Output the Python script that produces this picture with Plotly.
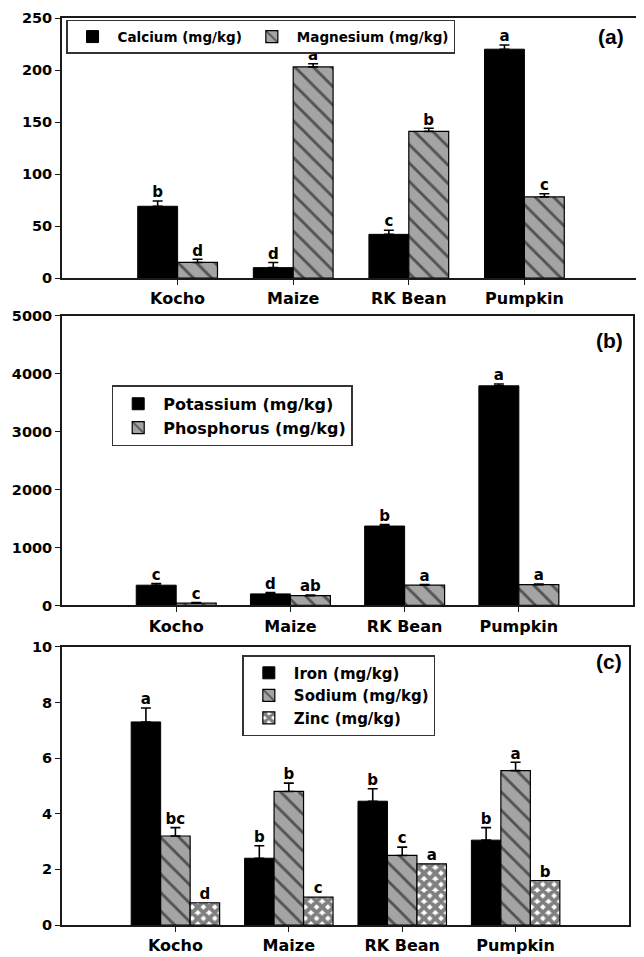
import plotly.graph_objects as go

categories = ["Kocho", "Maize", "RK Bean", "Pumpkin"]
cat_pos = [1, 2, 3, 4]

# Panel (a)
calcium = [69, 10, 42, 220]
calcium_err = [5, 5, 4, 4]
calcium_letters = ["b", "d", "c", "a"]
magnesium = [15, 203, 141, 78]
magnesium_err = [3, 3, 3, 3]
magnesium_letters = ["d", "a", "b", "c"]

# Panel (b)
potassium = [350, 200, 1370, 3790]
potassium_err = [30, 25, 25, 30]
potassium_letters = ["c", "d", "b", "a"]
phosphorus = [40, 170, 350, 360]
phosphorus_err = [10, 10, 10, 10]
phosphorus_letters = ["c", "ab", "a", "a"]

# Panel (c)
iron = [7.3, 2.4, 4.45, 3.05]
iron_err = [0.5, 0.45, 0.45, 0.45]
iron_letters = ["a", "b", "b", "b"]
sodium = [3.2, 4.8, 2.5, 5.55]
sodium_err = [0.3, 0.3, 0.3, 0.3]
sodium_letters = ["bc", "b", "c", "a"]
zinc = [0.8, 1.0, 2.2, 1.6]
zinc_err = [0, 0, 0, 0]
zinc_letters = ["d", "c", "a", "b"]

FONT = "DejaVu Sans"
GRAY = "#a4a4a4"

fig = go.Figure()


def add_series(name, vals, errs, letters, offset, width, style, axis_n, legend):
    xa = "x" if axis_n == 1 else f"x{axis_n}"
    ya = "y" if axis_n == 1 else f"y{axis_n}"
    if style == "solid":
        marker = dict(color="black", line=dict(color="black", width=1))
    elif style == "hatch":
        marker = dict(color=GRAY, line=dict(color="black", width=1.2),
                      pattern=dict(shape="\\", fgcolor="black", size=13,
                                   solidity=0.22, fillmode="overlay"))
    else:
        marker = dict(color="white", line=dict(color="black", width=1.2),
                      pattern=dict(shape="x", fgcolor="black", size=8,
                                   solidity=0.75, fillmode="overlay"))
    show_err = any(e > 0 for e in errs)
    fig.add_trace(go.Bar(
        x=cat_pos, y=vals, name=name, width=width, offset=offset,
        marker=marker, xaxis=xa, yaxis=ya, legend=legend,
        error_y=dict(type="data", array=errs, arrayminus=[0] * len(errs),
                     symmetric=False, color="black", thickness=1.6, width=5,
                     visible=show_err),
    ))
    fig.add_trace(go.Scatter(
        x=[p + offset + width / 2 for p in cat_pos],
        y=[v + e for v, e in zip(vals, errs)],
        mode="text", text=letters, textposition="top center",
        textfont=dict(family=FONT, size=15, color="black", weight="bold"),
        xaxis=xa, yaxis=ya, showlegend=False, hoverinfo="skip",
        cliponaxis=False,
    ))


wa = 0.345
add_series("Calcium (mg/kg)", calcium, calcium_err, calcium_letters, -wa, wa, "solid", 1, "legend")
add_series("Magnesium (mg/kg)", magnesium, magnesium_err, magnesium_letters, 0, wa, "hatch", 1, "legend")

wb = 0.35
add_series("Potassium (mg/kg)", potassium, potassium_err, potassium_letters, -wb, wb, "solid", 2, "legend2")
add_series("Phosphorus (mg/kg)", phosphorus, phosphorus_err, phosphorus_letters, 0, wb, "hatch", 2, "legend2")

wc = 0.26
add_series("Iron (mg/kg)", iron, iron_err, iron_letters, -1.5 * wc, wc, "solid", 3, "legend3")
add_series("Sodium (mg/kg)", sodium, sodium_err, sodium_letters, -0.5 * wc, wc, "hatch", 3, "legend3")
add_series("Zinc (mg/kg)", zinc, zinc_err, zinc_letters, 0.5 * wc, wc, "cross", 3, "legend3")

axis_common = dict(showline=True, linecolor="#1a1a1a", linewidth=1.8, mirror=True,
                   showgrid=False, zeroline=False, ticks="outside",
                   tickcolor="#1a1a1a", tickwidth=1.3, fixedrange=True)
tickfont = dict(family=FONT, size=14.5, color="black", weight="bold")
catfont = dict(family=FONT, size=16, color="black", weight="bold")

x_domains = [[0, 1.0], [0, 0.988], [0, 0.981]]
y_domains = [[0.7133, 1.0], [0.3523, 0.6718], [0.0, 0.3067]]
y_ranges = [[0, 250], [0, 5000], [0, 10]]
y_dticks = [50, 1000, 2]

layout = {}
for i in range(3):
    sfx = "" if i == 0 else str(i + 1)
    layout[f"xaxis{sfx}"] = dict(axis_common, domain=x_domains[i], range=[0, 5],
                                 tickvals=cat_pos, ticktext=categories,
                                 tickfont=catfont, ticklen=5,
                                 anchor="y" + sfx)
    layout[f"yaxis{sfx}"] = dict(axis_common, domain=y_domains[i],
                                 range=y_ranges[i],
                                 dtick=y_dticks[i], tickfont=tickfont, ticklen=5,
                                 anchor="x" + sfx)
fig.update_layout(**layout)

legend_common = dict(bgcolor="white", bordercolor="#333", borderwidth=1.5,
                     xanchor="left", yanchor="top", xref="paper", yref="paper",
                     itemclick=False, itemdoubleclick=False)
fig.update_layout(
    legend=dict(legend_common, x=0.007, y=0.998, orientation="h",
                font=dict(family=FONT, size=13.5, color="black", weight="bold"),
                tracegroupgap=0, itemwidth=40),
    legend2=dict(legend_common, x=0.086, y=0.595,
                 font=dict(family=FONT, size=16, color="black", weight="bold"),
                 tracegroupgap=0, itemwidth=40),
    legend3=dict(legend_common, x=0.312, y=0.2976,
                 font=dict(family=FONT, size=15, color="black", weight="bold"),
                 tracegroupgap=0, itemwidth=40),
)

labels = [("(a)", 0.95, 0.980), ("(b)", 0.948, 0.644), ("(c)", 0.946, 0.291)]
for txt, xp, yp in labels:
    fig.add_annotation(text=txt, x=xp, y=yp, xref="paper", yref="paper",
                       showarrow=False, xanchor="center", yanchor="middle",
                       font=dict(family="Liberation Sans", size=21, color="black", weight="bold"))

# page body has an 8px default margin; compensate so the plot lands where the reference has it
fig.update_layout(
    width=636, height=949, barmode="overlay",
    margin=dict(l=54, r=2, t=7, b=20),
    paper_bgcolor="white", plot_bgcolor="white",
    showlegend=True,
)

fig.write_html("out.html")
